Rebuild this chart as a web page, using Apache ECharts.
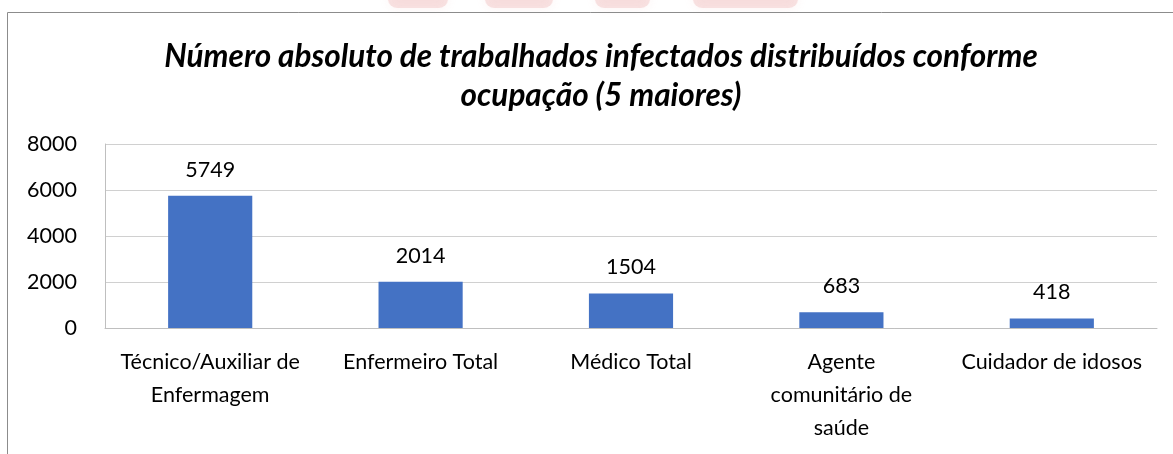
<!DOCTYPE html>
<html>
<head>
    <meta charset="utf-8">
    <title>Trabalhadores infectados por ocupação</title>
    <script src="https://cdn.jsdelivr.net/npm/echarts@6/dist/echarts.min.js"></script>
    <style>
        html, body { margin: 0; padding: 0; background: #fff; }
        #chart { width: 1173px; height: 454px; }
    </style>
</head>
<body>
    <div id="chart"></div>
    <script type="text/javascript">
        // dados
        const categories = [
            'Técnico/Auxiliar de\nEnfermagem',
            'Enfermeiro Total',
            'Médico Total',
            'Agente\ncomunitário de\nsaúde',
            'Cuidador de idosos'
        ];
        const values = [5749, 2014, 1504, 683, 418];
        const yTicks = [0, 2000, 4000, 6000, 8000];

        const fontFamily = 'Lato, "Open Sans", sans-serif';
        const chart = echarts.init(document.getElementById('chart'));

        // manchas da marca d'água cortada no topo
        const blobs = [[388, 60], [485, 68], [595, 55], [693, 105]];
        const watermark = blobs.map(function (b) {
            return {
                type: 'rect',
                shape: { x: b[0], y: -10, width: b[1], height: 18, r: 9 },
                style: { fill: 'rgba(235, 160, 160, 0.28)', shadowBlur: 10, shadowColor: 'rgba(235,160,160,0.5)' },
                silent: true
            };
        });

        const option = {
            animation: false,
            title: {
                text: 'Número absoluto de trabalhados infectados distribuídos conforme\nocupação (5 maiores)',
                left: 596,
                textAlign: 'center',
                top: 32,
                textStyle: {
                    fontFamily: fontFamily,
                    fontSize: 31.5,
                    fontWeight: 'bold',
                    fontStyle: 'italic',
                    color: '#000',
                    lineHeight: 39
                }
            },
            grid: { left: 105, right: 16, top: 144, bottom: 126 },
            xAxis: {
                type: 'category',
                data: categories,
                axisLine: { lineStyle: { color: '#bfbfbf' } },
                axisTick: { show: false },
                axisLabel: {
                    interval: 0,
                    margin: 18,
                    fontFamily: fontFamily,
                    fontSize: 21.5,
                    lineHeight: 33,
                    color: '#000'
                }
            },
            yAxis: {
                type: 'value',
                min: yTicks[0],
                max: yTicks[yTicks.length - 1],
                interval: 2000,
                axisLine: { show: true, lineStyle: { color: '#bfbfbf' } },
                splitLine: { lineStyle: { color: '#d0d0d0' } },
                axisLabel: {
                    margin: 28,
                    fontFamily: fontFamily,
                    fontSize: 21.5,
                    color: '#000',
                    formatter: function (v) { return String(v); }
                }
            },
            series: [{
                type: 'bar',
                data: values,
                barWidth: '40%',
                itemStyle: { color: '#4472c4' },
                label: {
                    show: true,
                    position: 'top',
                    distance: 15,
                    fontFamily: fontFamily,
                    fontSize: 21.5,
                    color: '#000'
                }
            }],
            graphic: watermark.concat([
                // moldura externa (topo e lado esquerdo)
                { type: 'line', shape: { x1: 7.5, y1: 12.5, x2: 1173, y2: 12.5 }, style: { stroke: '#8c8c8c', lineWidth: 1 } },
                { type: 'line', shape: { x1: 7.5, y1: 12.5, x2: 7.5, y2: 454 }, style: { stroke: '#8c8c8c', lineWidth: 1 } }
            ])
        };
        chart.setOption(option);

        window.addEventListener('resize', function () {
            chart.resize();
        });
    </script>
</body>
</html>
